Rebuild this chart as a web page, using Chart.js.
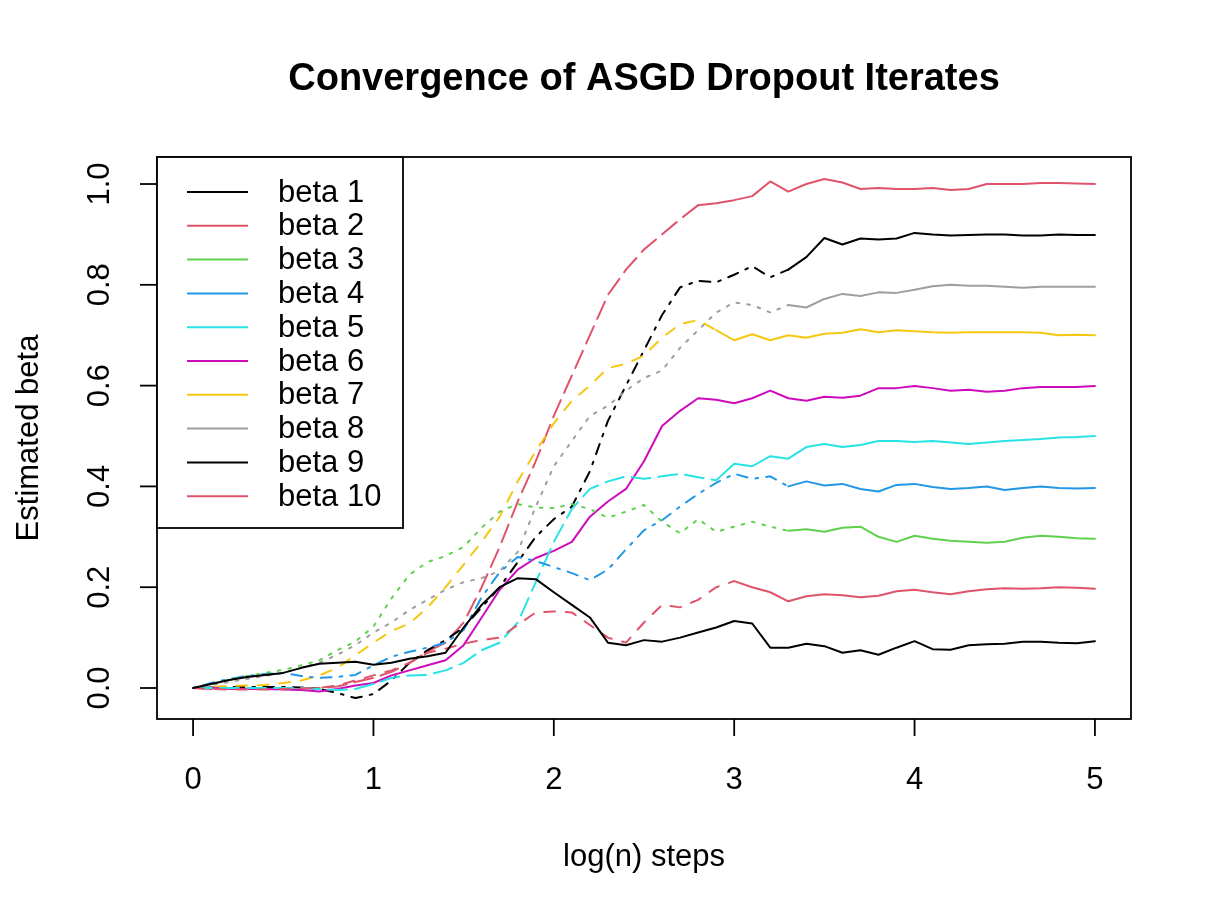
<!DOCTYPE html>
<html>
<head>
<meta charset="utf-8">
<title>Convergence of ASGD Dropout Iterates</title>
<script src="https://cdn.jsdelivr.net/npm/chart.js@4/dist/chart.umd.min.js"></script>
<style>
  html, body { margin: 0; padding: 0; background: #fff; }
  canvas { display: block; }
</style>
</head>
<body>
<canvas id="chart" width="1212" height="916"></canvas>
<script>
// log(n) steps, shared by every series
const steps = [0, 0.1, 0.2, 0.3, 0.4, 0.5, 0.6, 0.7, 0.8, 0.9,
    1.0, 1.1, 1.2, 1.3, 1.4, 1.5, 1.6, 1.7, 1.8, 1.9,
    2.0, 2.1, 2.2, 2.3, 2.4, 2.5, 2.6, 2.7, 2.8, 2.9,
    3.0, 3.1, 3.2, 3.3, 3.4, 3.5, 3.6, 3.7, 3.8, 3.9,
    4.0, 4.1, 4.2, 4.3, 4.4, 4.5, 4.6, 4.7, 4.8, 4.9, 5.0];

const beta1 = [0, 0.008, 0.016, 0.022, 0.026, 0.03, 0.04, 0.048, 0.05, 0.052,
    0.046, 0.05, 0.058, 0.063, 0.07, 0.12, 0.165, 0.2, 0.218, 0.216,
    0.19, 0.165, 0.14, 0.09, 0.085, 0.095, 0.092, 0.1, 0.11, 0.12,
    0.133, 0.128, 0.08, 0.08, 0.088, 0.083, 0.07, 0.075, 0.066, 0.08,
    0.093, 0.077, 0.076, 0.085, 0.087, 0.088, 0.092, 0.092, 0.09, 0.089, 0.093];
const beta2 = [0, -0.002, -0.003, -0.003, -0.003, -0.002, -0.001, 0, 0.005, 0.015,
    0.025, 0.035, 0.05, 0.07, 0.078, 0.088, 0.095, 0.1, 0.125, 0.15,
    0.152, 0.15, 0.125, 0.1, 0.09, 0.13, 0.165, 0.16, 0.175, 0.2,
    0.212, 0.2, 0.19, 0.172, 0.182, 0.186, 0.184, 0.18, 0.183, 0.192,
    0.195, 0.19, 0.186, 0.192, 0.196, 0.198, 0.197, 0.198, 0.2, 0.199, 0.197];
const beta3 = [0, 0.008, 0.016, 0.024, 0.03, 0.036, 0.045, 0.055, 0.075, 0.092,
    0.122, 0.178, 0.225, 0.25, 0.262, 0.28, 0.318, 0.35, 0.365, 0.358,
    0.357, 0.365, 0.355, 0.338, 0.35, 0.363, 0.33, 0.307, 0.335, 0.31,
    0.32, 0.33, 0.32, 0.312, 0.315, 0.31, 0.318, 0.32, 0.3, 0.29,
    0.302, 0.296, 0.292, 0.29, 0.288, 0.29, 0.298, 0.302, 0.3, 0.297, 0.296];
const beta4 = [0, 0.01, 0.018, 0.024, 0.028, 0.03, 0.024, 0.02, 0.022, 0.026,
    0.045, 0.062, 0.072, 0.08, 0.09, 0.115, 0.18, 0.23, 0.26, 0.252,
    0.24, 0.228, 0.214, 0.235, 0.275, 0.313, 0.333, 0.36, 0.385, 0.407,
    0.425, 0.415, 0.42, 0.4, 0.41, 0.402, 0.405, 0.395, 0.39, 0.403,
    0.405, 0.399, 0.395, 0.397, 0.4, 0.393, 0.397, 0.4, 0.397, 0.396, 0.397];
const beta5 = [0, 0, 0, 0, 0, 0, 0, -0.002, -0.004, -0.002,
    0.008, 0.02, 0.025, 0.026, 0.035, 0.05, 0.075, 0.09, 0.13, 0.21,
    0.29, 0.355, 0.395, 0.41, 0.42, 0.415, 0.42, 0.425, 0.418, 0.412,
    0.445, 0.44, 0.46, 0.455, 0.478, 0.484, 0.478, 0.482, 0.49, 0.49,
    0.488, 0.49, 0.487, 0.484, 0.487, 0.49, 0.492, 0.494, 0.497, 0.498, 0.5];
const beta6 = [0, 0, -0.001, -0.002, -0.002, -0.003, -0.004, -0.007, -0.002, 0.005,
    0.01, 0.025, 0.035, 0.045, 0.055, 0.085, 0.14, 0.195, 0.235, 0.258,
    0.272, 0.29, 0.34, 0.37, 0.395, 0.45, 0.52, 0.55, 0.575, 0.572,
    0.565, 0.575, 0.59, 0.575, 0.57, 0.578, 0.576, 0.58, 0.595, 0.595,
    0.599, 0.595, 0.59, 0.592, 0.588, 0.59, 0.595, 0.597, 0.597, 0.597, 0.599];
const beta7 = [0, 0.002, 0.004, 0.005, 0.006, 0.01, 0.015, 0.025, 0.04, 0.065,
    0.09, 0.113, 0.128, 0.16, 0.2, 0.245, 0.29, 0.34, 0.41, 0.47,
    0.525, 0.57, 0.6, 0.635, 0.643, 0.66, 0.695, 0.722, 0.73, 0.71,
    0.69, 0.702, 0.69, 0.7, 0.695, 0.703, 0.705, 0.712, 0.706, 0.71,
    0.708, 0.706, 0.705, 0.706, 0.706, 0.706, 0.706, 0.705, 0.7, 0.701, 0.7];
const beta8 = [0, 0.006, 0.012, 0.018, 0.024, 0.03, 0.04, 0.05, 0.066, 0.085,
    0.11, 0.13, 0.155, 0.175, 0.195, 0.21, 0.218, 0.232, 0.27, 0.36,
    0.44, 0.49, 0.54, 0.56, 0.59, 0.615, 0.63, 0.675, 0.71, 0.745,
    0.765, 0.76, 0.745, 0.76, 0.755, 0.772, 0.782, 0.778, 0.785, 0.784,
    0.79, 0.797, 0.8, 0.798, 0.798, 0.796, 0.794, 0.796, 0.796, 0.796, 0.796];
const beta9 = [0, 0.001, 0.002, 0.002, 0.002, 0.002, 0.001, -0.002, -0.01, -0.02,
    -0.012, 0.015, 0.05, 0.075, 0.095, 0.12, 0.16, 0.2, 0.25, 0.3,
    0.335, 0.36, 0.43, 0.53, 0.6, 0.67, 0.74, 0.795, 0.808, 0.805,
    0.82, 0.837, 0.815, 0.83, 0.855, 0.893, 0.88, 0.892, 0.89, 0.892,
    0.903, 0.9, 0.898, 0.899, 0.9, 0.9, 0.898, 0.898, 0.9, 0.899, 0.899];
const beta10 = [0, -0.002, -0.002, -0.002, -0.001, 0, 0, 0, 0.003, 0.012,
    0.02, 0.032, 0.05, 0.072, 0.09, 0.13, 0.2, 0.28, 0.37, 0.45,
    0.54, 0.62, 0.7, 0.78, 0.83, 0.87, 0.9, 0.93, 0.958, 0.962,
    0.968, 0.976, 1.005, 0.985, 1.0, 1.01, 1.003, 0.99, 0.992, 0.99,
    0.99, 0.992, 0.988, 0.99, 1.0, 1.0, 1.0, 1.002, 1.002, 1.001, 1.0];

const seriesNames = ['beta 1', 'beta 2', 'beta 3', 'beta 4', 'beta 5',
    'beta 6', 'beta 7', 'beta 8', 'beta 9', 'beta 10'];
const seriesValues = [beta1, beta2, beta3, beta4, beta5, beta6, beta7, beta8, beta9, beta10];
const xTicks = [0, 1, 2, 3, 4, 5];
const yTicks = [0, 0.2, 0.4, 0.6, 0.8, 1.0];

// R palette + matplot line types (1:5 recycled)
const colors = ['#000000', '#DF536B', '#61D04F', '#2297E6', '#28E2E5',
    '#CD0BBC', '#F5C710', '#9E9E9E', '#000000', '#DF536B'];
const u = 2.7;
const dashes = {
    solid: [],
    dashed: [4 * u, 4 * u],
    dotted: [1 * u, 3 * u],
    dotdash: [1 * u, 3 * u, 4 * u, 3 * u],
    longdash: [7 * u, 3 * u]
};
const ltys = ['solid', 'dashed', 'dotted', 'dotdash', 'longdash',
    'solid', 'dashed', 'dotted', 'dotdash', 'longdash'];
// past this x the jitter is so dense the dashes merge into a solid line
const solidFrom = [0, 3.0, 3.3, 3.3, 2.9, 0, 2.9, 3.3, 3.3, 2.8];

const FONT = '"Liberation Sans", Arial, Helvetica, sans-serif';

const datasets = seriesValues.map(function(vals, i) {
    const pattern = dashes[ltys[i]];
    return {
        label: seriesNames[i],
        data: vals.map(function(v, j) { return { x: steps[j], y: v }; }),
        borderColor: colors[i],
        borderWidth: 2,
        borderCapStyle: 'round',
        borderJoinStyle: 'round',
        pointRadius: 0,
        tension: 0,
        fill: false,
        segment: {
            borderDash: function(ctx) {
                return ctx.p0.parsed.x < solidFrom[i] ? pattern : [];
            }
        }
    };
});

const rFrame = {
    id: 'rFrame',
    afterDraw: function(chart) {
        const ctx = chart.ctx;
        const a = chart.chartArea;
        const xs = chart.scales.x;
        const ys = chart.scales.y;
        ctx.save();
        ctx.strokeStyle = '#000';
        ctx.fillStyle = '#000';
        ctx.lineWidth = 1.8;

        // box
        ctx.strokeRect(a.left, a.top, a.right - a.left, a.bottom - a.top);

        // x axis ticks and labels
        ctx.font = '31px ' + FONT;
        ctx.textAlign = 'center';
        ctx.textBaseline = 'middle';
        xTicks.forEach(function(t) {
            const px = xs.getPixelForValue(t);
            ctx.beginPath();
            ctx.moveTo(px, a.bottom);
            ctx.lineTo(px, a.bottom + 17);
            ctx.stroke();
            ctx.fillText(String(t), px, 780);
        });

        // y axis ticks and rotated labels
        yTicks.forEach(function(t) {
            const py = ys.getPixelForValue(t);
            ctx.beginPath();
            ctx.moveTo(a.left, py);
            ctx.lineTo(a.left - 17, py);
            ctx.stroke();
            ctx.save();
            ctx.translate(100, py);
            ctx.rotate(-Math.PI / 2);
            ctx.fillText(t.toFixed(1), 0, 0);
            ctx.restore();
        });

        // axis titles
        ctx.fillText('log(n) steps', (a.left + a.right) / 2, 857);
        ctx.save();
        ctx.translate(29, (a.top + a.bottom) / 2);
        ctx.rotate(-Math.PI / 2);
        ctx.fillText('Estimated beta', 0, 0);
        ctx.restore();

        // main title
        ctx.font = 'bold 38px ' + FONT;
        ctx.fillText('Convergence of ASGD Dropout Iterates', (a.left + a.right) / 2, 80);

        // legend box, top-left corner of the plot
        const lx = a.left, ly = a.top, lw = 246, lh = 371;
        ctx.fillStyle = '#fff';
        ctx.fillRect(lx, ly, lw, lh);
        ctx.strokeRect(lx, ly, lw, lh);
        ctx.font = '31px ' + FONT;
        ctx.textAlign = 'left';
        ctx.fillStyle = '#000';
        seriesNames.forEach(function(name, i) {
            const rowY = 192 + i * 33.8;
            ctx.strokeStyle = colors[i];
            ctx.lineWidth = 2;
            ctx.beginPath();
            ctx.moveTo(187, rowY);
            ctx.lineTo(248, rowY);
            ctx.stroke();
            ctx.fillText(name, 278, rowY + 1);
        });
        ctx.restore();
    }
};

document.addEventListener('DOMContentLoaded', function() {
    new Chart(document.getElementById('chart'), {
        type: 'line',
        data: { datasets: datasets },
        options: {
            responsive: false,
            animation: false,
            devicePixelRatio: 1,
            layout: { padding: { left: 157, right: 81, top: 157, bottom: 197 } },
            plugins: {
                legend: { display: false },
                title: { display: false },
                tooltip: { enabled: false }
            },
            scales: {
                x: { type: 'linear', min: -0.2, max: 5.2, display: false },
                y: { type: 'linear', min: -0.0615, max: 1.0536, display: false }
            }
        },
        plugins: [rFrame]
    });
});
</script>
</body>
</html>
